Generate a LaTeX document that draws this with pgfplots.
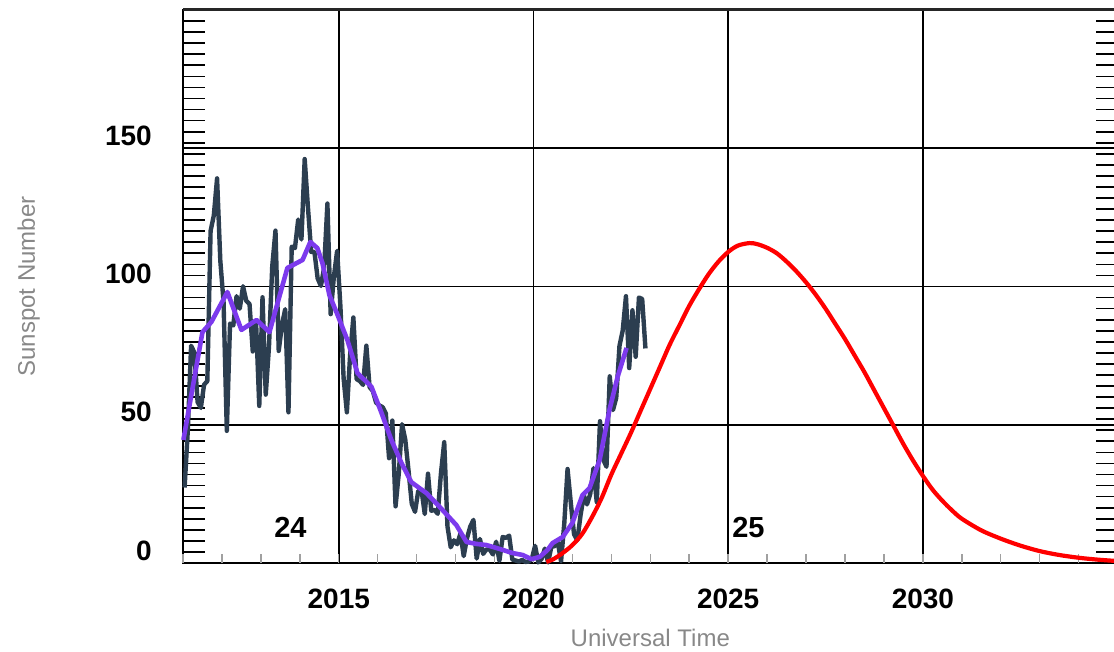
\documentclass[border=0pt]{standalone}
\usepackage{pgfplots}
\pgfplotsset{compat=1.18}
\usepackage{fontspec}
\setmainfont{Liberation Sans}
\definecolor{navy}{RGB}{44,62,80}
\definecolor{purp}{RGB}{124,58,237}
\definecolor{lgray}{RGB}{136,136,136}
\definecolor{tgray}{RGB}{160,160,160}
\begin{document}
\begin{tikzpicture}
\begin{axis}[
 scale only axis, width=934.6pt, height=553pt,
 xmin=2011, xmax=2035, ymin=0, ymax=200,
 xtick={2015,2020,2025,2030},
 ytick={0,50,100,150},
 minor ytick={0,4,...,200},
 grid=major,
 major grid style={black, line width=1.9pt},
 axis line style={black, line width=2.2pt},
 tick align=inside,
 xtick pos=left, ytick pos=both,
 major tick length=0pt,
 minor tick length=22pt,
 minor y tick style={black, line width=1.7pt},
 extra x ticks={2011,2012,...,2035},
 extra x tick labels={},
 extra x tick style={grid=none, major tick length=9pt, tick style={color=tgray, line width=1.5pt}},
 ticklabel style={font=\fontsize{28}{28}\selectfont\bfseries},
 /pgf/number format/assume math mode=true,
 /pgf/number format/1000 sep={},
 xticklabel style={anchor=base, inner sep=0pt, yshift=-45pt},
 yticklabel style={anchor=base east, inner sep=0pt, xshift=-31pt, yshift=3pt},
 xlabel={Universal Time}, ylabel={Sunspot Number},
 label style={font=\fontsize{24}{24}\selectfont, text=lgray},
 xlabel style={at={(axis description cs:0.5,-0.1501)}, anchor=base, inner sep=0pt},
 ylabel style={at={(axis description cs:-0.1584,0.5)}, anchor=base, inner sep=0pt},
 clip=false,
]
\coordinate (SW) at (rel axis cs:0,0);
\addplot[navy, line width=4.4pt, line join=round, mark=none] table[x expr={2011+(\coordindex+0.5)/12}, y index=0] {
27.3
48.3
78.6
76.1
58.2
56.1
64.5
65.8
120.1
125.7
139.1
109.3
94.4
47.8
86.6
85.9
96.5
92.0
100.1
94.8
93.7
76.5
87.6
56.8
96.1
60.9
78.3
107.3
120.2
76.7
86.2
91.8
54.5
114.4
113.9
124.2
117.0
146.1
128.7
112.5
112.5
102.9
100.2
106.9
130.0
90.0
103.6
112.9
93.0
66.7
54.5
75.3
88.8
66.5
65.8
64.4
78.6
63.6
62.2
58.0
57.0
56.4
54.1
37.9
51.5
20.5
32.4
50.2
44.6
33.4
21.4
18.5
26.1
26.4
17.7
32.3
18.9
19.2
17.8
32.6
43.7
13.2
5.7
8.2
6.8
10.7
2.5
8.9
13.1
15.6
1.6
8.7
3.3
4.9
4.9
3.1
7.7
0.8
9.4
9.1
9.9
1.2
0.9
0.5
1.1
0.4
0.5
1.5
6.2
0.2
1.5
5.2
0.2
5.8
6.1
7.5
0.6
14.4
34.0
21.8
10.4
8.2
17.2
24.5
21.2
25.0
34.3
22.0
51.3
37.4
34.8
67.5
55.3
59.7
78.5
84.1
96.5
70.5
91.4
74.6
96.0
95.5
77.6
};
\addplot[purp, line width=4.6pt, line join=round, mark=none] coordinates {
(2011.01,44.5) (2011.50,83.5) (2011.73,87.2) (2012.14,98.0) (2012.50,84.3)
(2012.89,87.9) (2013.22,83.5) (2013.68,106.7) (2014.07,109.6) (2014.27,116.1)
(2014.45,113.9) (2014.58,108.5) (2014.76,96.9) (2014.97,89.7) (2015.22,80.7)
(2015.48,68.7) (2015.66,66.2) (2015.84,63.7) (2016.10,54.2) (2016.35,44.5)
(2016.61,36.2) (2016.86,29.3) (2017.07,27.1) (2017.25,25.3) (2017.59,20.3)
(2018.02,13.7) (2018.28,7.6) (2018.54,6.9) (2018.79,6.5) (2019.13,5.1)
(2019.46,3.6) (2019.72,2.9) (2019.95,1.4) (2020.16,2.2) (2020.36,4.7)
(2020.49,7.2) (2020.75,9.4) (2021.00,14.5) (2021.26,24.6) (2021.44,27.1)
(2021.70,37.3) (2021.95,55.3) (2022.16,67.3) (2022.39,77.8)
};
\addplot[red, line width=4.2pt, line join=round, smooth, mark=none] coordinates {
(2020.33,0.4) (2020.5,1.3) (2020.75,3.6) (2021.0,6.5) (2021.25,10.5)
(2021.5,16.5) (2021.75,23.5) (2022.0,32) (2022.25,39.5) (2022.5,47)
(2022.75,55) (2023.0,63) (2023.25,71) (2023.5,79) (2023.75,86)
(2024.0,93) (2024.25,99) (2024.5,104.5) (2024.75,109) (2025.0,112.5)
(2025.25,114.8) (2025.55,115.7) (2025.75,115.3) (2026.0,114) (2026.25,112)
(2026.5,109) (2026.75,105.5) (2027.0,101.5) (2027.25,97) (2027.5,92)
(2027.75,86.5) (2028.0,81) (2028.25,75) (2028.5,69) (2028.75,62.5)
(2029.0,56) (2029.25,49.5) (2029.5,43) (2029.75,37) (2030.0,31.5)
(2030.25,26.5) (2030.5,22.5) (2030.75,19) (2031.0,16) (2031.5,11.8)
(2032.0,8.8) (2032.5,6.3) (2033.0,4.3) (2033.5,2.9) (2034.0,1.9)
(2034.5,1.2) (2035.0,0.7)
};
\draw[line width=3pt, black!85] (rel axis cs:0,1) -- (rel axis cs:1,1);
\node[anchor=base, inner sep=0pt, font=\fontsize{29}{29}\selectfont\bfseries] at (axis cs:2013.76,9.4) {24};
\node[anchor=base, inner sep=0pt, font=\fontsize{29}{29}\selectfont\bfseries] at (axis cs:2025.52,9.4) {25};
\end{axis}
\pgfresetboundingbox
\path[use as bounding box] ([shift={(-183pt,-88pt)}]SW) rectangle ([shift={(931pt,563pt)}]SW);
\end{tikzpicture}
\end{document}
